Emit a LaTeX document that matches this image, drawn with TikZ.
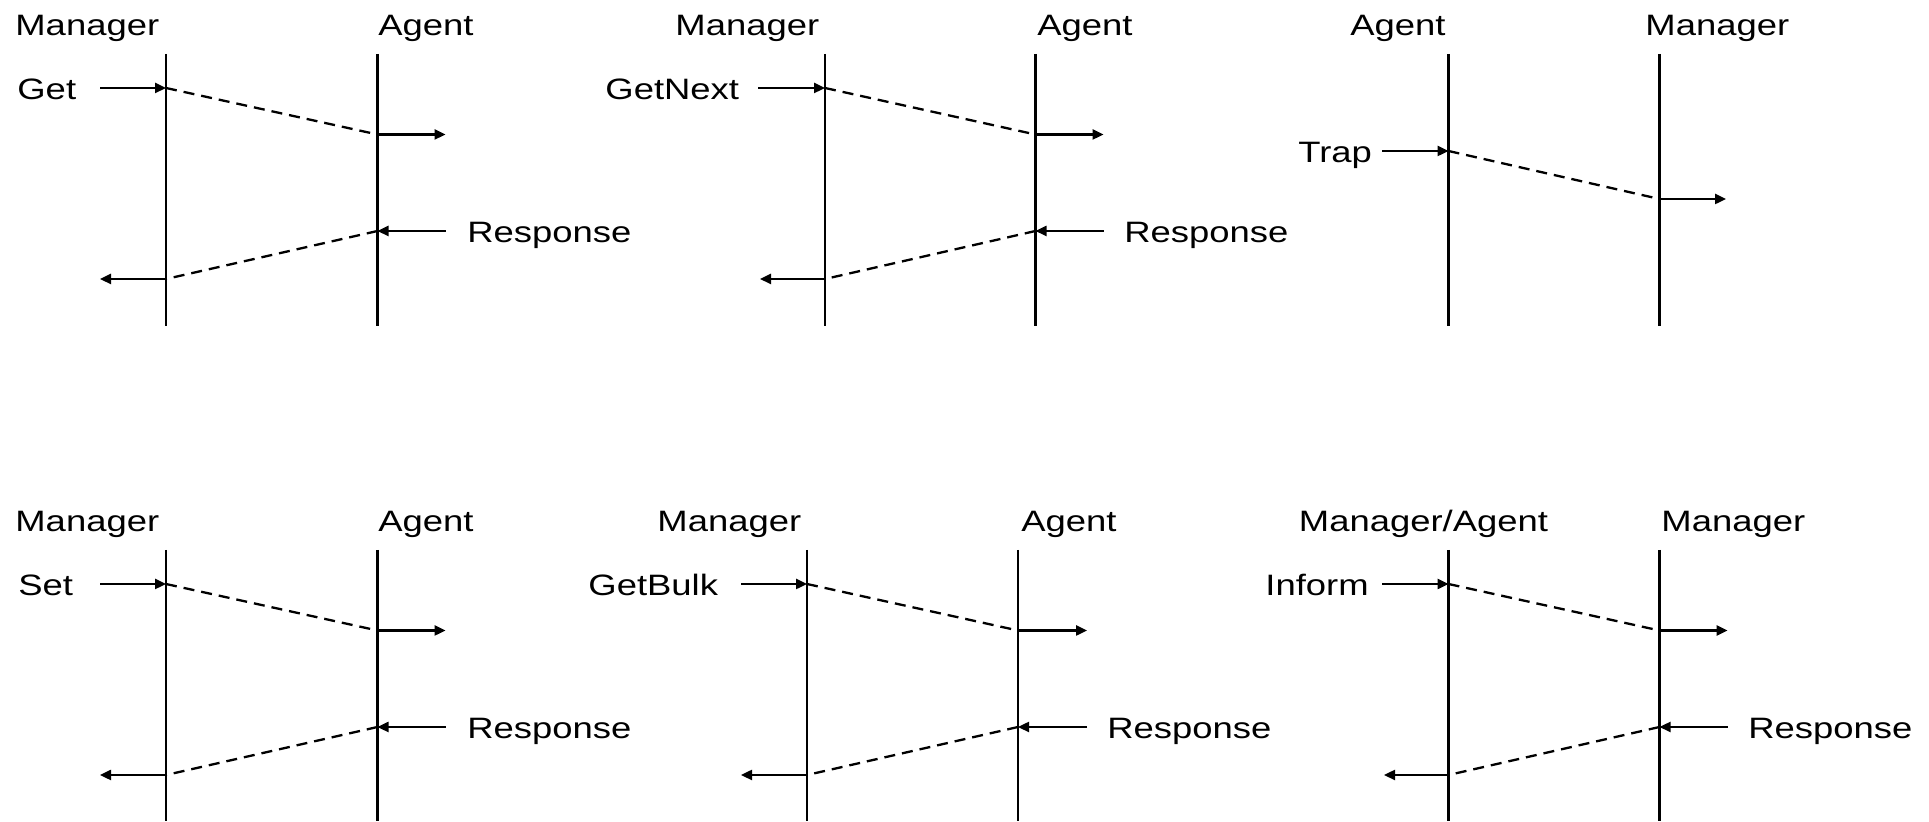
\documentclass[tikz,border=0pt]{standalone}
\usepackage{fontspec}
\newfontfamily\lblfont{Liberation Sans}[FakeStretch=1.235]
\usetikzlibrary{arrows.meta}
\newcommand\reqmsg[7]{% prefix, xstart, xfrom, y1, xto, y2, xend
  \coordinate (#1s) at (#2,#4); \coordinate (#1a) at (#3,#4);
  \coordinate (#1b) at (#5,#6); \coordinate (#1e) at (#7,#6);
  \draw[arr] (#1s) -- (#1a); \draw[msg] (#1a) -- (#1b); \draw[arr] (#1b) -- (#1e);}
\newcommand\lifeln[4]{% name, x, ytop, ybot
  \coordinate (#1t) at (#2,#3); \coordinate (#1b) at (#2,#4);
  \draw[life] (#1t) -- (#1b);}
\begin{document}
\begin{tikzpicture}[x=0.5pt,y=-0.5pt,
  life/.style={line width=1.25pt},
  msg/.style={line width=1.15pt, dash pattern=on 5.5pt off 3.5pt},
  arr/.style={line width=1.2pt, -{Triangle[length=5.5pt,width=5pt]}},
  lbl/.style={anchor=base west, inner sep=0pt, font=\lblfont\fontsize{14.75pt}{17pt}\selectfont}]
\useasboundingbox (0,0) rectangle (1929,822);
% ---------- Panel 1: Get ----------
\lifeln{a1}{166}{54}{326} \lifeln{b1}{377.5}{54}{326}
\node[lbl] (a1n) at (15,36) {Manager};
\node[lbl] (b1n) at (378,36) {Agent};
\node[lbl] (q1n) at (17,99.5) {Get};
\reqmsg{q1}{100}{166}{88}{377.5}{134.5}{445.5}
\node[lbl] (r1n) at (467,242.5) {Response};
\reqmsg{r1}{445.5}{377.5}{231}{166}{279}{100}
% ---------- Panel 2: GetNext ----------
\lifeln{a2}{825}{54}{326} \lifeln{b2}{1035.5}{54}{326}
\node[lbl] (a2n) at (675,36) {Manager};
\node[lbl] (b2n) at (1037,36) {Agent};
\node[lbl] (q2n) at (605,99.5) {GetNext};
\reqmsg{q2}{758}{825}{88}{1035.5}{134.5}{1103.5}
\node[lbl] (r2n) at (1124,242.5) {Response};
\reqmsg{r2}{1103.5}{1035.5}{231}{825}{279}{760}
% ---------- Panel 3: Trap ----------
\lifeln{a3}{1448.5}{54}{326} \lifeln{b3}{1659.5}{54}{326}
\node[lbl] (a3n) at (1350,36) {Agent};
\node[lbl] (b3n) at (1645,36) {Manager};
\node[lbl] (q3n) at (1298,162.5) {Trap};
\reqmsg{q3}{1382}{1448.5}{151}{1659.5}{199}{1726}
% ---------- Panel 4: Set ----------
\lifeln{a4}{166}{550}{821} \lifeln{b4}{377.5}{550}{821}
\node[lbl] (a4n) at (15,532) {Manager};
\node[lbl] (b4n) at (378,532) {Agent};
\node[lbl] (q4n) at (18,595.5) {Set};
\reqmsg{q4}{100}{166}{584}{377.5}{630.5}{445.5}
\node[lbl] (r4n) at (467,738.5) {Response};
\reqmsg{r4}{445.5}{377.5}{727}{166}{775}{100}
% ---------- Panel 5: GetBulk ----------
\lifeln{a5}{807}{550}{821} \lifeln{b5}{1018}{550}{821}
\node[lbl] (a5n) at (657,532) {Manager};
\node[lbl] (b5n) at (1021,532) {Agent};
\node[lbl] (q5n) at (588,595.5) {GetBulk};
\reqmsg{q5}{741}{807}{584}{1018}{630.5}{1087}
\node[lbl] (r5n) at (1107,738.5) {Response};
\reqmsg{r5}{1087}{1018}{727}{807}{775}{741}
% ---------- Panel 6: Inform ----------
\lifeln{a6}{1448.5}{550}{821} \lifeln{b6}{1659.5}{550}{821}
\node[lbl] (a6n) at (1298.5,532) {Manager/Agent};
\node[lbl] (b6n) at (1661,532) {Manager};
\node[lbl] (q6n) at (1265,595.5) {Inform};
\reqmsg{q6}{1382}{1448.5}{584}{1659.5}{630.5}{1727.5}
\node[lbl] (r6n) at (1748,738.5) {Response};
\reqmsg{r6}{1727.5}{1659.5}{727}{1448.5}{775}{1384}
\end{tikzpicture}
\end{document}
